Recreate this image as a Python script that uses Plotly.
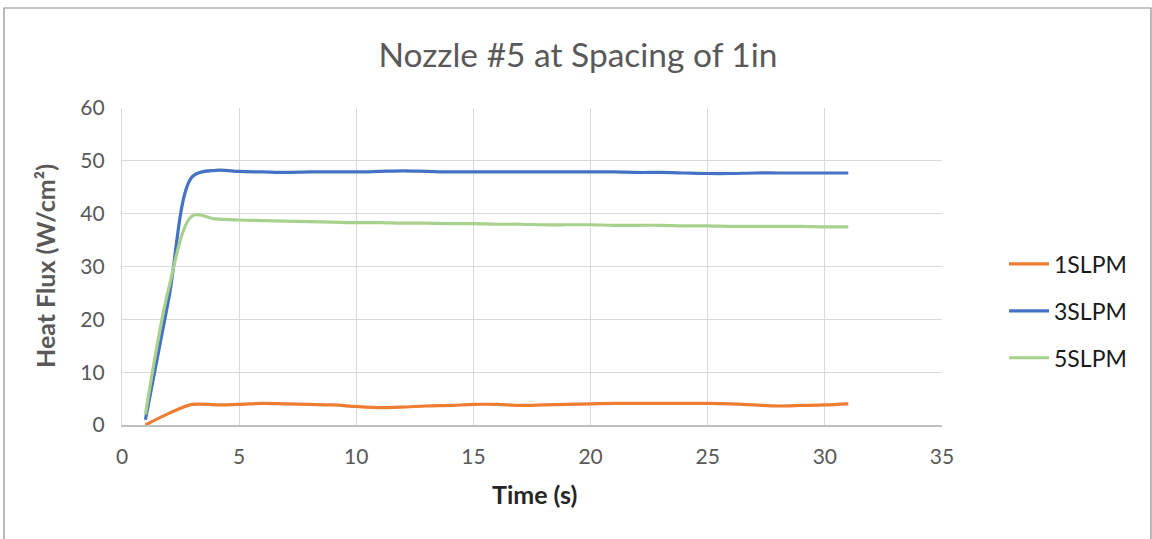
import plotly.graph_objects as go

time_s = list(range(1, 32))
slpm1 = [0.0, 2.2, 3.9, 3.8, 3.9, 4.1, 4.0, 3.9, 3.8, 3.5, 3.3, 3.4, 3.6, 3.7, 3.9, 3.9,
         3.7, 3.8, 3.9, 4.0, 4.1, 4.1, 4.1, 4.1, 4.1, 4.0, 3.8, 3.6, 3.7, 3.8, 4.0]
slpm3 = [1.0, 24.0, 47.0, 48.2, 48.0, 47.9, 47.8, 47.9, 47.9, 47.9, 48.0, 48.1, 48.0, 47.9,
         47.9, 47.9, 47.9, 47.9, 47.9, 47.9, 47.9, 47.8, 47.8, 47.7, 47.6, 47.6, 47.7, 47.7,
         47.7, 47.7, 47.7]
slpm5 = [2.0, 26.0, 39.6, 39.0, 38.8, 38.7, 38.6, 38.5, 38.4, 38.3, 38.3, 38.2, 38.2, 38.1,
         38.1, 38.0, 38.0, 37.9, 37.9, 37.9, 37.8, 37.8, 37.8, 37.7, 37.7, 37.6, 37.6, 37.6,
         37.6, 37.5, 37.5]
series_names = ["1SLPM", "3SLPM", "5SLPM"]
series_colors = ["#ED7D31", "#4472C4", "#A9D18E"]
x_ticks = [0, 5, 10, 15, 20, 25, 30, 35]
y_ticks = [0, 10, 20, 30, 40, 50, 60]

FONT = "Lato, 'Noto Sans', sans-serif"
W, H = 1152, 539
L, R, T, B = 122, 942, 108, 425

fig = go.Figure()
for i, (name, ys, col) in enumerate(zip(series_names, [slpm1, slpm3, slpm5], series_colors)):
    fig.add_trace(go.Scatter(
        x=time_s, y=ys, name=name, mode="lines",
        line=dict(color=col, width=3.2, shape="spline", smoothing=0.9),
        legendgroup=f"g{i}",
    ))

def px_x(p):
    return (p - L) / (R - L)

def px_y(p):
    return (B - p) / (B - T)

fig.update_layout(
    width=W, height=H,
    margin=dict(l=L, r=W - R, t=T, b=H - B, autoexpand=False),
    paper_bgcolor="white", plot_bgcolor="white",
    font=dict(family=FONT, color="#595959"),
    title=dict(text="Nozzle #5 at Spacing of 1in", x=578 / W, y=1 - 55 / H,
               xanchor="center", yanchor="middle", xref="container", yref="container",
               font=dict(family=FONT, size=33.5, color="#595959", weight=400)),
    xaxis=dict(range=[0, 35], tickvals=x_ticks, showgrid=True, gridcolor="#D9D9D9", gridwidth=1.3,
               showline=True, linecolor="#BFBFBF", linewidth=1.5, zeroline=False, ticks="",
               tickfont=dict(size=21, color="#595959"), ticklabelstandoff=12),
    yaxis=dict(range=[0, 60], tickvals=y_ticks, showgrid=True, gridcolor="#D9D9D9", gridwidth=1.3,
               showline=True, linecolor="#D9D9D9", linewidth=1.3, zeroline=False, ticks="",
               tickfont=dict(size=21, color="#595959"), ticklabelstandoff=12),
    legend=dict(x=px_x(1004), y=px_y(311), xanchor="left", yanchor="middle",
                font=dict(size=23, color="#1a1a1a"), tracegroupgap=14,
                bgcolor="rgba(0,0,0,0)", itemwidth=40),
    showlegend=True,
    annotations=[
        dict(text="<b>Time (s)</b>", x=px_x(534), y=px_y(494), xref="paper", yref="paper",
             showarrow=False, xanchor="center", yanchor="middle",
             font=dict(family=FONT, size=25, color="#262626")),
        dict(text="<b>Heat Flux (W/cm²)</b>", x=px_x(45), y=px_y(266), xref="paper", yref="paper",
             showarrow=False, xanchor="center", yanchor="middle", textangle=-90,
             font=dict(family=FONT, size=25, color="#595959")),
    ],
    shapes=[
        dict(type="rect", xref="paper", yref="paper",
             x0=px_x(4), x1=px_x(1151), y0=px_y(600), y1=px_y(8),
             line=dict(color="#8C8C8C", width=1.2), fillcolor="rgba(0,0,0,0)", layer="below"),
    ],
)

fig.write_html("out.html",
               config={"displayModeBar": False},
               post_script="document.body.style.margin='0';document.body.style.padding='0';")
